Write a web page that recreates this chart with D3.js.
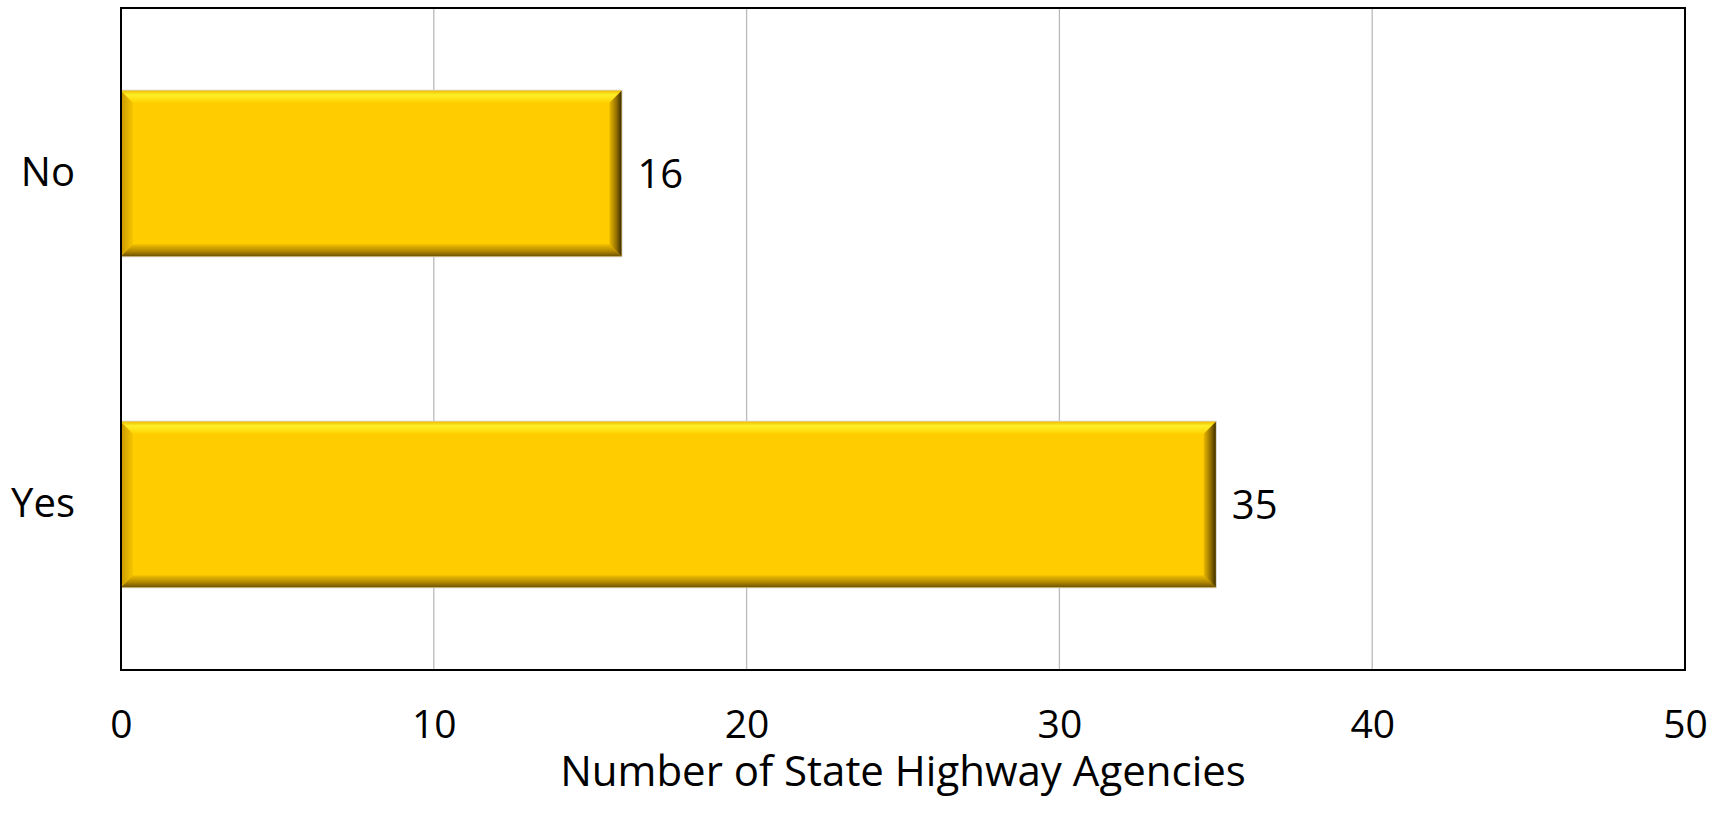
<!DOCTYPE html>
<html>
<head>
<meta charset="utf-8">
<script src="https://cdn.jsdelivr.net/npm/d3@7"></script>
<style>
  html, body { margin: 0; padding: 0; background: #ffffff; }
  svg { display: block; }
  text { font-family: "Open Sans", "DejaVu Sans", sans-serif; fill: #000; }
</style>
</head>
<body>
<svg id="chart" width="1725" height="822"></svg>
<script>
// Survey responses
const categories = ["No", "Yes"];
const counts = [16, 35];
const xTicks = [0, 10, 20, 30, 40, 50];
const xTitle = "Number of State Highway Agencies";

const W = 1725, H = 822;
const margin = { left: 121, right: 40, top: 8, bottom: 152 };
const plotW = W - margin.left - margin.right;
const plotH = H - margin.top - margin.bottom;

const svg = d3.select("#chart");
const defs = svg.append("defs");

// Bevel gradients for the bars
function grad(id, x2, y2, stops) {
  const g = defs.append("linearGradient").attr("id", id)
    .attr("x1", 0).attr("y1", 0).attr("x2", x2).attr("y2", y2);
  stops.forEach(([o, c]) => g.append("stop").attr("offset", o).attr("stop-color", c));
}
grad("bevTop", 0, 1, [[0, "#f0c000"], [0.35, "#fff02a"], [1, "#ffd200"]]);
grad("bevBot", 0, 1, [[0, "#f0bf00"], [0.6, "#b08600"], [1, "#6e5300"]]);
grad("bevLeft", 1, 0, [[0, "#c89a00"], [1, "#f7c500"]]);
grad("bevRight", 1, 0, [[0, "#e8b700"], [0.6, "#8f6d00"], [1, "#3a2c00"]]);

const g = svg.append("g").attr("transform", `translate(${margin.left},${margin.top})`);

const x = d3.scaleLinear().domain([0, 50]).range([0, plotW]);
const y = d3.scaleBand().domain(categories).range([0, plotH]).paddingInner(0.5).paddingOuter(0.25);

// Vertical gridlines
g.append("g").selectAll("line").data(xTicks.slice(1, -1)).join("line")
  .attr("x1", d => x(d)).attr("x2", d => x(d))
  .attr("y1", 0).attr("y2", plotH)
  .attr("stroke", "#bababa").attr("stroke-width", 1.3);

// Bars with bevelled edges
const bevel = 12;
const bars = g.append("g").selectAll("g").data(categories.map((c, i) => ({ c, v: counts[i] }))).join("g");
bars.each(function (d) {
  const sel = d3.select(this);
  const x0 = x(0), x1 = x(d.v), y0 = y(d.c), y1 = y(d.c) + y.bandwidth();
  const b = bevel;
  sel.append("rect").attr("x", x0).attr("y", y0 - 1).attr("width", x1 - x0 + 1).attr("height", y1 - y0 + 2)
    .attr("fill", "#d0d0d0");
  sel.append("rect").attr("x", x0).attr("y", y0).attr("width", x1 - x0).attr("height", y1 - y0)
    .attr("fill", "#ffcc00");
  const poly = (pts, fill) => sel.append("polygon")
    .attr("points", pts.map(p => p.join(",")).join(" ")).attr("fill", fill);
  poly([[x0, y0], [x0 + b, y0 + b], [x0 + b, y1 - b], [x0, y1]], "url(#bevLeft)");
  poly([[x0, y1], [x1, y1], [x1 - b, y1 - b], [x0 + b, y1 - b]], "url(#bevBot)");
  poly([[x0, y0], [x1, y0], [x1 - b, y0 + b], [x0 + b, y0 + b]], "url(#bevTop)");
  poly([[x1, y0], [x1 - b, y0 + b], [x1 - b, y1 - b], [x1, y1]], "url(#bevRight)");
});

// Value labels
bars.append("text")
  .attr("x", d => x(d.v) + 16)
  .attr("y", d => y(d.c) + y.bandwidth() / 2)
  .attr("dy", "0.35em")
  .attr("font-size", 40)
  .text(d => d.v);

// Plot frame
g.append("rect").attr("x", 0).attr("y", 0).attr("width", plotW).attr("height", plotH)
  .attr("fill", "none").attr("stroke", "#000").attr("stroke-width", 2);

// Category axis
const yAxis = g.append("g").call(d3.axisLeft(y).tickSize(0).tickPadding(46));
yAxis.select(".domain").remove();
yAxis.selectAll("text").attr("font-size", 40).attr("font-family", null).attr("fill", "#000");

// Value axis
const xAxis = g.append("g").attr("transform", `translate(0,${plotH})`)
  .call(d3.axisBottom(x).tickValues(xTicks).tickSize(0).tickPadding(40));
xAxis.select(".domain").remove();
xAxis.selectAll("text").attr("font-size", 39).attr("font-family", null).attr("fill", "#000");

// Axis title
g.append("text")
  .attr("x", plotW / 2)
  .attr("y", plotH + 116)
  .attr("text-anchor", "middle")
  .attr("font-size", 42)
  .text(xTitle);
</script>
</body>
</html>
